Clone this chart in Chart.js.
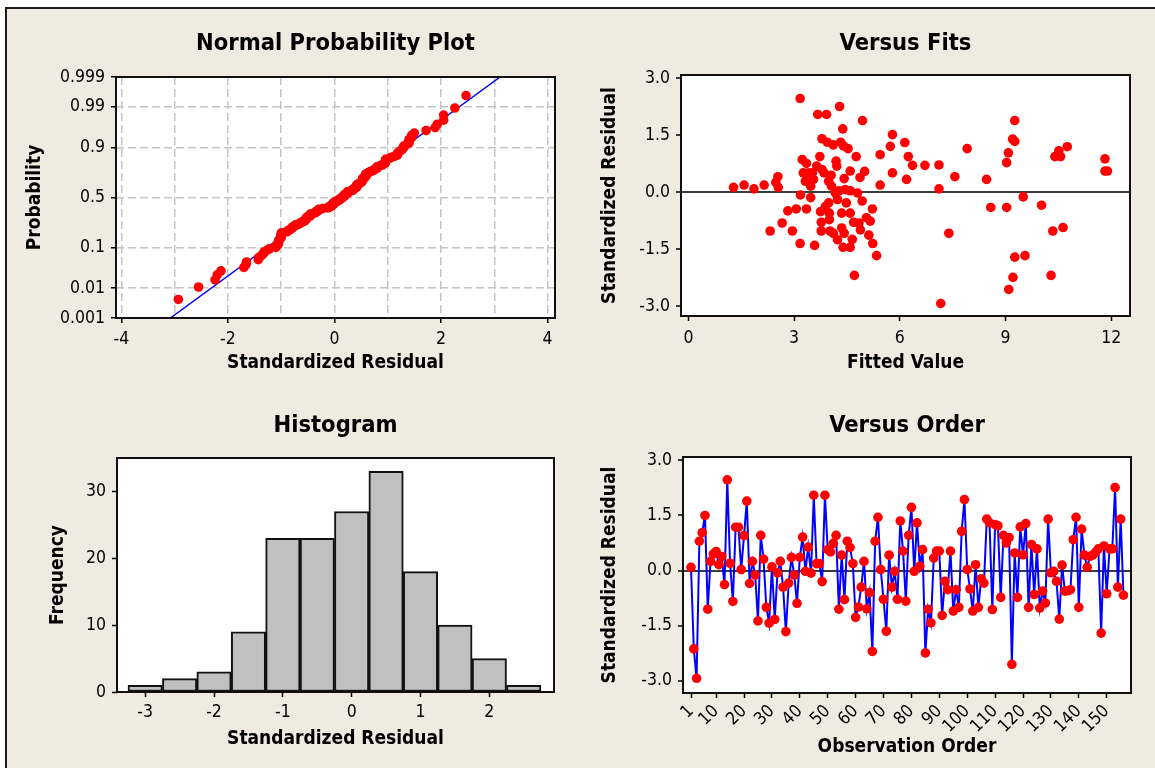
<!DOCTYPE html>
<html><head><meta charset="utf-8">
<script src="https://cdn.jsdelivr.net/npm/chart.js@4.4.1/dist/chart.umd.min.js"></script>
<style>
html,body{margin:0;padding:0;background:#fff;width:1155px;height:768px;overflow:hidden}
#bg{position:absolute;left:5px;top:7px;right:0;bottom:0;background:#EFEBE1;border-top:2px solid #1a1a1a;border-left:2px solid #1a1a1a}
canvas{position:absolute;left:0;top:0}
</style></head><body>
<div id="bg"></div>
<canvas id="c1" width="1155" height="768"></canvas>
<canvas id="c2" width="1155" height="768"></canvas>
<canvas id="c3" width="1155" height="768"></canvas>
<canvas id="c4" width="1155" height="768"></canvas>
<script>
// ---------------- DATA ----------------
const orderResiduals = [
 0.09,-2.13,-2.93,0.8,1.03,1.5,-1.05,0.25,0.45,0.52,
 0.16,0.38,-0.38,2.47,0.2,-0.84,1.18,1.18,0.03,0.95,
 1.89,-0.35,0.25,-0.12,-1.37,0.96,0.31,-1.0,-1.43,0.1,
 -1.33,-0.06,0.25,-0.45,-1.66,-0.34,0.36,-0.12,-0.89,0.36,
 0.91,-0.02,0.64,-0.07,2.05,0.19,0.19,-0.3,2.05,0.57,
 0.51,0.74,0.96,-1.05,0.42,-0.79,0.8,0.63,0.19,-1.27,
 -0.99,-0.45,0.25,-1.04,-0.6,-2.2,0.8,1.45,0.03,-0.78,
 -1.65,0.42,-0.45,-0.02,-0.78,1.35,0.53,-0.83,0.96,1.72,
 -0.02,1.3,0.12,0.57,-2.24,-1.05,-1.42,0.34,0.53,0.53,
 -1.22,-0.29,-0.52,0.53,-1.1,-0.52,-1.0,1.07,1.93,0.03,
 -0.5,-1.1,0.16,-1.0,-0.22,-0.34,1.4,1.3,-1.06,1.25,
 1.22,-0.73,0.96,0.75,0.9,-2.55,0.48,-0.73,1.19,0.43,
 1.28,-1.0,0.71,-0.65,0.59,-1.02,-0.56,-0.88,1.4,-0.06,
 -0.02,-0.29,-1.32,0.15,-0.56,-0.55,-0.52,0.84,1.45,-1.0,
 1.13,0.42,0.09,0.39,0.42,0.5,0.59,-1.7,0.67,-0.63,
 0.59,0.59,2.26,-0.45,1.4,-0.67
];
const fittedValues = [
 1.28,1.58,1.86,2.15,2.48,2.54,2.55,2.32,2.66,2.82,
 2.95,3.06,3.17,3.17,3.23,3.35,3.26,3.18,3.35,3.47,
 3.42,3.55,3.58,3.64,3.67,3.73,3.75,3.79,3.77,3.77,
 3.85,3.92,3.89,3.94,3.98,4.0,4.02,4.05,4.11,4.11,
 4.17,4.19,4.21,4.23,4.29,4.32,4.27,4.35,4.35,4.38,
 4.4,4.42,4.42,4.39,4.48,4.53,4.59,4.59,4.59,4.59,
 4.65,4.69,4.71,4.76,4.8,4.84,4.87,4.88,4.94,4.93,
 5.0,5.05,5.12,5.16,5.22,5.23,5.34,5.44,5.44,5.73,
 5.79,5.79,6.14,6.19,6.24,6.36,6.71,7.11,7.11,7.16,
 7.39,7.56,7.91,8.46,8.58,9.03,9.03,9.08,9.09,9.21,
 9.2,9.26,9.26,9.26,9.5,9.55,10.02,10.29,10.34,10.4,
 10.51,10.56,10.63,10.75,11.82,11.82,11.89,3.32,3.52,4.06,
 3.98,4.23,4.45,3.79,4.0,3.47
];
const fitsResiduals = [
 0.13,0.19,0.09,0.19,0.26,0.41,0.13,-1.02,-0.81,-0.49,
 -1.02,-0.44,2.47,-1.35,0.86,0.76,0.51,-0.07,-0.44,-0.14,
 0.51,0.34,-1.4,0.69,2.05,0.94,-0.51,1.41,-0.79,-1.02,
 0.51,2.05,-0.37,1.32,0.29,-0.55,-1.02,0.45,1.25,-1.08,
 -0.02,0.82,0.69,-1.25,2.26,1.32,0.04,-0.94,-0.55,1.67,
 1.22,0.36,-1.08,-1.45,-0.28,1.15,0.56,0.04,-0.55,-1.45,
 -1.24,-0.79,-2.19,0.94,-0.02,-0.81,0.39,-0.99,1.89,-0.23,
 0.55,-0.67,-1.13,-0.76,-0.44,-1.35,-1.67,0.99,0.19,1.21,
 1.52,0.51,1.31,0.34,0.94,0.71,0.71,0.72,0.09,-2.93,
 -1.08,0.41,1.15,0.34,-0.4,0.78,-0.4,1.04,-2.56,-2.24,
 1.4,1.34,1.89,-1.71,-0.12,-1.67,-0.34,-2.19,-1.02,0.94,
 1.09,0.94,-0.93,1.2,0.88,0.56,0.56,0.29,0.51,0.16,
 -0.28,-0.19,0.07,0.6,-0.72,0.16
];
const histBinCenters = [-3,-2.5,-2,-1.5,-1,-0.5,0,0.5,1,1.5,2,2.5];
const histCounts     = [1,2,3,9,23,23,27,33,18,10,5,1];
const probTickValues = [0.001,0.01,0.1,0.5,0.9,0.99,0.999];
const probTickLabels = ['0.001','0.01','0.1','0.5','0.9','0.99','0.999'];
const fitLineResidual = [-3.08, 3.11];
const fitLineProb     = [0.001, 0.999];
const nppXTicks   = [-4,-3,-2,-1,0,1,2,3,4];
const fitsXTicks  = [0,3,6,9,12];
const residTicks  = [-3,-1.5,0,1.5,3];
const histXTicks  = [-3,-2,-1,0,1,2];
const histYTicks  = [0,10,20,30];
const orderXTicks = [1,10,20,30,40,50,60,70,80,90,100,110,120,130,140,150];

// ---------------- helpers ----------------
function invNorm(p){
 const a=[-3.969683028665376e+01,2.209460984245205e+02,-2.759285104469687e+02,1.383577518672690e+02,-3.066479806614716e+01,2.506628277459239e+00];
 const b=[-5.447609879822406e+01,1.615858368580409e+02,-1.556989798598866e+02,6.680131188771972e+01,-1.328068155288572e+01];
 const c=[-7.784894002430293e-03,-3.223964580411365e-01,-2.400758277161838e+00,-2.549732539343734e+00,4.374664141464968e+00,2.938163982698783e+00];
 const d=[7.784695709041462e-03,3.224671290700398e-01,2.445134137142996e+00,3.754408661907416e+00];
 const pl=0.02425, ph=1-pl; let q,r;
 if(p<pl){q=Math.sqrt(-2*Math.log(p));return (((((c[0]*q+c[1])*q+c[2])*q+c[3])*q+c[4])*q+c[5])/((((d[0]*q+d[1])*q+d[2])*q+d[3])*q+1);}
 if(p<=ph){q=p-0.5;r=q*q;return (((((a[0]*r+a[1])*r+a[2])*r+a[3])*r+a[4])*r+a[5])*q/(((((b[0]*r+b[1])*r+b[2])*r+b[3])*r+b[4])*r+1);}
 q=Math.sqrt(-2*Math.log(1-p));return -(((((c[0]*q+c[1])*q+c[2])*q+c[3])*q+c[4])*q+c[5])/((((d[0]*q+d[1])*q+d[2])*q+d[3])*q+1);
}
// normal probability plot: ranked residuals vs median-rank (Benard) probability
const sortedRes = orderResiduals.slice().sort((x,y)=>x-y);
const nRes = sortedRes.length;
const nppPoints = sortedRes.map((v,i)=>({x:v, y:invNorm((i+1-0.3)/(nRes+0.4))}));
const nppLine = fitLineResidual.map((v,i)=>({x:v, y:invNorm(fitLineProb[i])}));
const probTickZ = probTickValues.map(invNorm);

const FONT='"DejaVu Sans Condensed","DejaVu Sans",sans-serif';
const tickFont={family:FONT,size:17.5};
const axisTitleFont={family:FONT,size:19,weight:'bold'};
const titleFont={family:FONT,size:23.5,weight:'bold'};
const RED='#ff0000', BLUE='#0000ff';
const DOT=4.8;

const framePlugin={id:'frame',
 beforeDraw(ch){const {ctx,chartArea:a}=ch;ctx.save();ctx.fillStyle='#fff';ctx.fillRect(a.left,a.top,a.right-a.left,a.bottom-a.top);ctx.restore();},
 afterDraw(ch){const {ctx,chartArea:a}=ch;ctx.save();ctx.strokeStyle='#111';ctx.lineWidth=2;ctx.strokeRect(a.left,a.top,a.right-a.left,a.bottom-a.top);ctx.restore();}
};

function axis(o){
 const horiz = o.pos==='bottom';
 return {type:'linear',position:o.pos,min:o.min,max:o.max,offset:false,
  afterBuildTicks:s=>{s.ticks=o.ticks.map(v=>({value:v}));},
  afterFit:s=>{ if(horiz) s.height=o.size; else s.width=o.size; },
  ticks:{autoSkip:false,color:'#000',font:tickFont,padding:o.tickPad??6,
         maxRotation:o.rot||0,minRotation:o.rot||0,callback:o.fmt||(v=>String(v))},
  grid:Object.assign({offset:false,drawOnChartArea:false,tickLength:5,tickColor:'#000',tickWidth:1.5,color:'rgba(0,0,0,0)',lineWidth:1},o.grid||{}),
  border:Object.assign({display:false},o.border||{}),
  title:{display:true,text:o.label,color:'#000',font:axisTitleFont,padding:o.titlePad}
 };
}
function baseOpts(pad,title,titlePad,scales){
 return {responsive:false,animation:false,events:[],
  layout:{padding:pad},
  plugins:{legend:{display:false},tooltip:{enabled:false},
   title:{display:true,text:title,fullSize:false,color:'#000',font:titleFont,padding:titlePad}},
  scales};
}
const res1 = v=>v.toFixed(1);
const zeroGrid = {drawOnChartArea:true,color:c=>(c.tick&&c.tick.value===0)?'#3c3c3c':'rgba(0,0,0,0)',lineWidth:2};

// ---- Normal Probability Plot ----
new Chart(document.getElementById('c1'),{
 type:'scatter',
 data:{datasets:[
  {data:nppLine,showLine:true,borderColor:BLUE,borderWidth:1.5,pointRadius:0,order:2},
  {data:nppPoints,pointRadius:DOT,pointBackgroundColor:RED,pointBorderWidth:0,order:1}
 ]},
 options:baseOpts({left:20,right:600,top:9,bottom:378},'Normal Probability Plot',{top:21,bottom:18.8},{
  x:axis({pos:'bottom',min:-4.1,max:4.14,ticks:nppXTicks,size:72,label:'Standardized Residual',titlePad:{top:0,bottom:15.6},
          fmt:v=>(v%2===0?String(v):''),
          grid:{drawOnChartArea:true,color:'#c4c4c4',lineWidth:1.5,tickColor:c=>(c.tick&&c.tick.value%2===0)?'#000':'rgba(0,0,0,0)'},
          border:{dash:[8,4]}}),
  y:axis({pos:'left',min:probTickZ[0],max:probTickZ[6],ticks:probTickZ,size:96,label:'Probability',titlePad:{top:3.6,bottom:0},
          fmt:(v,i)=>probTickLabels[i],
          grid:{drawOnChartArea:true,color:'#c4c4c4',lineWidth:1.5},border:{dash:[8,4]}})
 }),
 plugins:[framePlugin]
});

// ---- Versus Fits ----
new Chart(document.getElementById('c2'),{
 type:'scatter',
 data:{datasets:[{data:fittedValues.map((f,i)=>({x:f,y:fitsResiduals[i]})),pointRadius:DOT,pointBackgroundColor:RED,pointBorderWidth:0}]},
 options:baseOpts({left:595,right:25,top:9,bottom:378},'Versus Fits',{top:21,bottom:16.8},{
  x:axis({pos:'bottom',min:-0.21,max:12.53,ticks:fitsXTicks,size:74,label:'Fitted Value',titlePad:{top:0,bottom:16},tickPad:7}),
  y:axis({pos:'left',min:-3.26,max:3.09,ticks:residTicks,size:86,label:'Standardized Residual',titlePad:{top:3.6,bottom:0},fmt:res1,grid:zeroGrid})
 }),
 plugins:[framePlugin]
});

// ---- Histogram ----
new Chart(document.getElementById('c3'),{
 type:'bar',
 data:{datasets:[{data:histBinCenters.map((c,i)=>({x:c,y:histCounts[i]})),backgroundColor:'#c0c0c0',borderColor:'#111',borderWidth:2,borderSkipped:false,barPercentage:1,categoryPercentage:1}]},
 options:baseOpts({left:43,right:601,top:390,bottom:2},'Histogram',{top:21.7,bottom:18.1},{
  x:axis({pos:'bottom',min:-3.41,max:2.94,ticks:histXTicks,size:74,label:'Standardized Residual',titlePad:{top:0,bottom:15.9},tickPad:5}),
  y:axis({pos:'left',min:0,max:35,ticks:histYTicks,size:74,label:'Frequency',titlePad:{top:3.6,bottom:0}})
 }),
 plugins:[framePlugin]
});

// ---- Versus Order ----
new Chart(document.getElementById('c4'),{
 type:'scatter',
 data:{datasets:[{data:orderResiduals.map((v,i)=>({x:i+1,y:v})),showLine:true,borderColor:BLUE,borderWidth:2,pointRadius:DOT,pointBackgroundColor:RED,pointBorderWidth:0}]},
 options:baseOpts({left:595,right:24,top:390,bottom:2},'Versus Order',{top:21.4,bottom:17.4},{
  x:axis({pos:'bottom',min:-1.87,max:158.7,ticks:orderXTicks,size:73,label:'Observation Order',titlePad:{top:0,bottom:7.9},rot:45,tickPad:3}),
  y:axis({pos:'left',min:-3.33,max:3.09,ticks:residTicks,size:88,label:'Standardized Residual',titlePad:{top:3.6,bottom:0},fmt:res1,grid:zeroGrid})
 }),
 plugins:[framePlugin]
});
</script>
</body></html>
